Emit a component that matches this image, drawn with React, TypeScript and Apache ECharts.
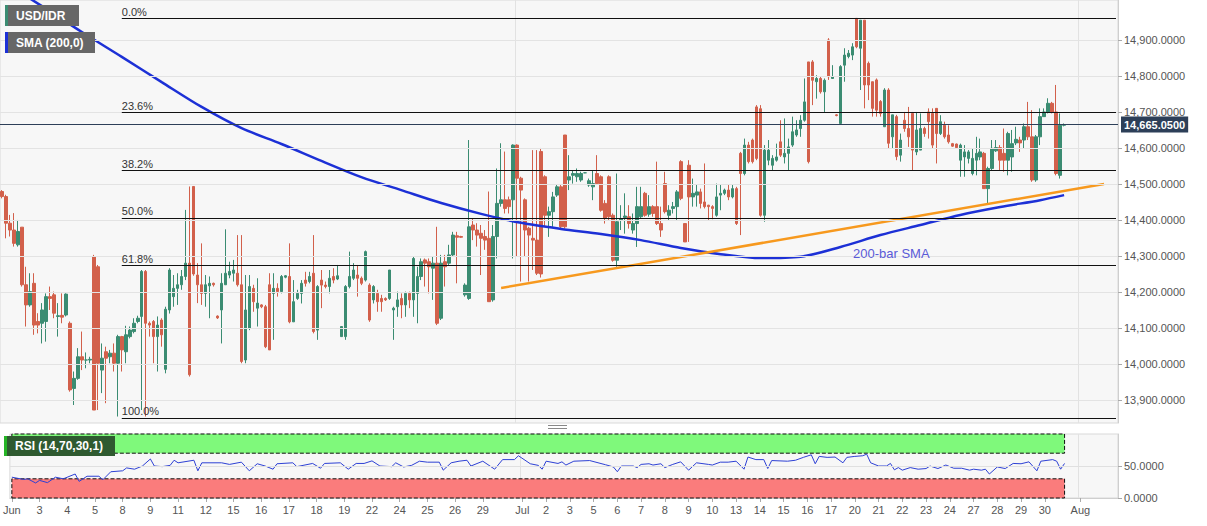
import React, { useEffect, useRef } from "react";
import * as echarts from "echarts";

// ---------- data ----------
const TOTAL_BARS = 280;

const juneTicks: [number, string][] = [
  [0, "Jun"], [7, "3"], [14, "4"], [21, "5"], [28, "8"], [35, "9"], [42, "11"], [49, "12"],
  [56, "15"], [63, "16"], [70, "17"], [77, "18"], [84, "19"], [91, "22"], [98, "24"],
  [105, "25"], [112, "26"], [119, "29"],
];
const julyTicks: [number, string][] = [
  [129, "Jul"], [135, "2"], [141, "3"], [147, "5"], [153, "6"], [159, "7"], [165, "8"],
  [171, "9"], [177, "10"], [183, "13"], [189, "14"], [195, "15"], [201, "16"], [207, "17"],
  [213, "20"], [219, "21"], [225, "22"], [231, "23"], [237, "24"], [243, "27"], [249, "28"],
  [255, "29"], [261, "30"], [270, "Aug"],
];
const monthStarts = [129, 270];

// [open, close, low, high]
const candles: number[][] = [
  [14479,14465,14460,14483],[14465,14391,14349,14470],[14391,14372,14354,14414],[14372,14335,14326,14419],
  [14331,14368,14326,14400],[14380,14220,14215,14380],[14220,14164,14104,14270],[14164,14201,14159,14252],
  [14224,14108,14081,14252],[14118,14108,14085,14141],[14113,14150,14057,14169],[14118,14187,14062,14196],
  [14187,14182,14150,14215],[14192,14141,14127,14201],[14132,14134,14076,14169],[14135,14130,14113,14196],
  [14136,14194,14132,14196],[14113,13928,13923,14118],[13932,13960,13886,13979],[13960,14020,13956,14044],
  [14020,14011,13983,14090],[14011,14011,13988,14032],[14011,14013,14002,14020],[14298,13872,13872,14303],
  [14270,14002,13872,14275],[13983,14016,13919,14057],[14034,14016,13891,14048],[14020,14030,14002,14039],
  [14030,14002,13979,14057],[14002,14076,13854,14081],[14076,14039,13979,14078],[14034,14081,14002,14106],
  [14076,14094,14071,14104],[14090,14113,14085,14127],[14118,14127,14113,14134],[14132,14257,13872,14261],
  [14257,14113,13854,14261],[14113,14108,14076,14118],[14118,14076,14002,14122],[14076,14108,13979,14132],
  [14122,14081,14048,14127],[13985,14152,13974,14159],[14150,14261,14140,14266],[14187,14210,14159,14247],
  [14210,14220,14164,14252],[14220,14243,14206,14261],[14243,14280,14233,14428],[14280,13970,13965,14493],
  [14493,14250,14245,14493],[14247,14220,14169,14280],[14220,14196,14164,14335],[14196,14220,14159,14247],
  [14217,14224,14127,14243],[14224,14220,14215,14226],[14133,14128,14125,14135],[14150,14224,14057,14252],
  [14220,14252,14220,14374],[14247,14257,14238,14284],[14252,14261,14229,14289],[14252,14220,14215,14358],
  [14220,14007,14002,14358],[14011,14150,14002,14247],[14099,14215,14094,14247],[14210,14173,14145,14220],
  [14155,14169,14104,14238],[14164,14159,14155,14166],[14159,14048,14044,14164],[14220,14039,14039,14252],
  [14196,14210,14067,14252],[14210,14201,14187,14224],[14201,14243,14196,14247],[14241,14245,14238,14247],
  [14243,14117,14113,14335],[14117,14173,14117,14233],[14182,14196,14178,14206],[14196,14224,14168,14233],
  [14233,14224,14215,14256],[14229,14243,14224,14256],[14252,14090,14085,14358],[14094,14215,14067,14219],
  [14233,14219,14155,14261],[14219,14215,14210,14229],[14215,14238,14196,14261],[14243,14233,14224,14266],
  [14236,14245,14233,14275],[14076,14104,14076,14104],[14076,14215,14067,14219],[14215,14243,14210,14312],
  [14238,14261,14233,14280],[14247,14238,14187,14275],[14238,14224,14219,14243],[14233,14312,14229,14315],
  [14219,14122,14117,14224],[14178,14215,14168,14219],[14196,14173,14145,14206],[14182,14173,14145,14192],
  [14182,14178,14175,14185],[14182,14261,14178,14261],[14150,14155,14067,14159],[14159,14178,14131,14201],
  [14182,14164,14127,14196],[14164,14196,14131,14201],[14196,14178,14155,14201],[14178,14293,14131,14298],
  [14196,14243,14113,14270],[14243,14284,14233,14293],[14289,14280,14215,14293],[14284,14270,14196,14293],
  [14266,14280,14178,14298],[14280,14113,14108,14381],[14127,14280,14122,14303],[14284,14270,14215,14303],
  [14280,14303,14275,14331],[14303,14358,14298,14367],[14356,14352,14224,14367],[14354,14352,14350,14356],
  [14192,14219,14187,14224],[14182,14381,14178,14622],[14386,14372,14344,14405],[14372,14358,14326,14391],
  [14363,14349,14247,14386],[14354,14344,14317,14372],[14349,14173,14173,14479],[14178,14354,14173,14386],
  [14354,14446,14293,14543],[14446,14456,14437,14613],[14456,14432,14418,14590],[14456,14437,14418,14465],
  [14456,14608,14293,14610],[14608,14516,14298,14610],[14516,14483,14229,14520],[14456,14372,14298,14460],
  [14377,14358,14229,14381],[14349,14344,14261,14594],[14344,14252,14247,14594],[14590,14250,14240,14600],
  [14520,14413,14381,14524],[14413,14423,14353,14437],[14423,14464,14381,14478],[14469,14492,14464,14497],
  [14492,14381,14376,14497],[14636,14381,14376,14636],[14511,14520,14483,14580],[14524,14529,14501,14538],
  [14520,14529,14506,14543],[14511,14529,14506,14534],[14531,14531,14530,14532],[14497,14509,14492,14515],
  [14492,14501,14455,14538],[14529,14501,14497,14580],[14520,14427,14423,14524],[14446,14404,14390,14455],
  [14520,14409,14400,14524],[14413,14288,14284,14418],[14288,14395,14270,14529],[14400,14404,14372,14441],
  [14407,14411,14362,14474],[14409,14390,14376,14441],[14372,14390,14362,14418],[14390,14437,14325,14492],
  [14409,14437,14404,14492],[14474,14413,14409,14478],[14416,14437,14409,14469],[14437,14418,14409,14441],
  [14437,14390,14386,14562],[14390,14372,14353,14437],[14501,14423,14418,14534],[14413,14427,14400,14441],
  [14432,14437,14418,14450],[14437,14478,14400,14483],[14562,14460,14455,14566],[14390,14339,14339,14390],
  [14552,14464,14339,14566],[14464,14474,14437,14515],[14469,14478,14437,14497],[14478,14446,14432,14487],
  [14450,14437,14432,14557],[14441,14437,14400,14442],[14437,14432,14402,14441],[14413,14464,14409,14501],
  [14469,14474,14427,14497],[14474,14483,14469,14487],[14483,14464,14455,14497],[14464,14487,14460,14497],
  [14487,14390,14386,14492],[14585,14529,14358,14589],[14529,14608,14524,14626],[14608,14562,14557,14617],
  [14622,14562,14557,14626],[14714,14571,14566,14719],[14709,14413,14409,14719],[14413,14594,14395,14608],
  [14566,14594,14552,14622],[14552,14571,14538,14580],[14566,14575,14562,14612],[14617,14580,14575,14677],
  [14575,14585,14557,14682],[14585,14603,14538,14626],[14608,14645,14603,14687],[14636,14650,14631,14677],
  [14654,14677,14631,14691],[14677,14728,14673,14793],[14839,14562,14557,14839],[14839,14788,14719,14844],
  [14784,14793,14737,14802],[14793,14756,14751,14798],[14756,14788,14700,14793],[14900,14798,14789,14905],
  [14793,14798,14793,14830],[14692,14690,14688,14694],[14668,14826,14668,14830],[14830,14858,14784,14877],
  [14854,14863,14849,14872],[14858,14881,14844,14891],[14960,14881,14877,14960],[14877,14955,14761,14955],
  [14955,14775,14710,14955],[14835,14775,14733,14840],[14784,14710,14687,14784],[14789,14705,14687,14793],
  [14729,14696,14687,14733],[14659,14761,14659,14766],[14761,14613,14599,14766],[14631,14692,14599,14692],
  [14687,14576,14566,14692],[14580,14622,14562,14640],[14677,14654,14645,14700],[14654,14631,14603,14714],
  [14696,14594,14538,14700],[14589,14650,14580,14700],[14594,14654,14594,14696],[14654,14640,14631,14659],
  [14700,14673,14626,14710],[14696,14608,14599,14710],[14710,14640,14557,14710],[14640,14673,14636,14691],
  [14663,14631,14626,14673],[14636,14617,14612,14663],[14612,14605,14603,14614],[14611,14601,14599,14612],
  [14566,14608,14520,14612],[14575,14589,14520,14608],[14571,14589,14557,14594],[14529,14571,14524,14599],
  [14566,14585,14524,14631],[14575,14589,14566,14626],[14585,14487,14487,14589],[14487,14543,14446,14548],
  [14543,14599,14538,14622],[14592,14601,14589,14622],[14601,14566,14538,14608],[14585,14566,14534,14654],
  [14566,14640,14524,14645],[14575,14612,14534,14650],[14614,14624,14608,14659],[14622,14614,14589,14631],
  [14622,14659,14599,14668],[14659,14631,14622,14728],[14631,14511,14506,14705],[14511,14631,14506,14636],
  [14631,14687,14608,14710],[14687,14700,14687,14710],[14700,14724,14696,14738],[14724,14700,14696,14728],
  [14700,14529,14524,14775],[14524,14663,14515,14696],[14663,14665.05,14660,14668],
];

// 200-bar SMA every 10 bars: [bar index, value]
const smaPoints: number[][] = [
  [0,15064],[10,14994],[20,14922],[30,14853],[40,14783],[50,14714],[60,14655],[70,14611],
  [80,14564],[90,14519],[100,14483],[110,14447],[120,14417],[130,14392],[140,14375],[150,14361],
  [160,14344],[170,14322],[180,14305],[190,14294],[200,14298],[210,14325],[220,14358],[230,14386],
  [240,14414],[250,14436],[260,14455],[266,14469],
];

// rising support line: [bar index, value]
const trendPoints: number[][] = [[125, 14211], [276, 14500]];

// RSI(14): [bar index, value]
const rsiPoints: number[][] = [
  [0,32.5],[3,29],[4,30],[6,23.5],[7,27.5],[9,24],[11,32.5],[13,30],[16,37.5],[17,26],[19,34],
  [22,34],[23,28.5],[25,41],[28,42.5],[29,47],[31,45],[33,50],[35,61],[36,50],[38,49],[40,51],
  [41,59],[42,55],[46,59],[47,42.5],[48,55],[53,55],[55,52.5],[58,56],[60,42.5],[62,53.5],
  [64,50],[66,45],[67,53.5],[71,55],[72,49],[76,54],[78,46.5],[79,54],[83,55],[85,45],[87,54],
  [89,54],[91,58],[93,50],[96,49],[97,55],[99,48.5],[101,51],[103,57.5],[105,56],[108,56],
  [109,43.5],[111,55],[113,57.5],[115,59],[116,50],[119,57.5],[122,45],[124,60],[127,60],
  [128,66],[131,53.5],[133,51],[134,45],[135,57.5],[138,54],[139,56.5],[140,51.5],[142,57.5],
  [146,58.5],[150,52],[152,48.5],[153,41],[154,50],[157,50],[158,47.5],[159,52.5],[161,53.5],
  [162,51.5],[164,53.5],[165,47.5],[167,52.5],[169,56.5],[171,43.5],[173,55],[176,52.5],
  [177,51.5],[179,56],[181,56],[183,57.5],[185,45],[186,64],[188,60],[190,60],[191,46],
  [192,58.5],[196,57.5],[198,59],[200,63.5],[202,67.5],[203,53.5],[204,65],[206,63.5],[208,64],
  [210,55],[211,63.5],[213,65],[215,66],[216,68.5],[217,55],[219,50],[221,50],[222,54],[223,44],
  [224,47.5],[225,43.5],[227,47.5],[229,45],[231,46],[232,50],[234,46],[236,51.5],[238,46.5],
  [240,46.5],[242,43.5],[243,45],[245,43.5],[246,45],[247,37.5],[249,48.5],[251,46],[253,54],
  [255,53.5],[257,56.5],[259,42.5],[260,57.5],[263,60],[264,57.5],[265,45],[266,54],
];

const priceTicks = [13900, 14000, 14100, 14200, 14300, 14400, 14500, 14600, 14700, 14800, 14900];
const rsiTicks = [0, 50];

const fibLevels: { label: string; value: number }[] = [
  { label: "0.0%", value: 14961 },
  { label: "23.6%", value: 14699 },
  { label: "38.2%", value: 14537 },
  { label: "50.0%", value: 14405.5 },
  { label: "61.8%", value: 14274 },
  { label: "100.0%", value: 13850 },
];
const lastPrice = 14665.05;

// ---------- component ----------
const FONT = "'Liberation Sans', Arial, sans-serif";
const fmt = (v: number) =>
  Number(v).toLocaleString("en-US", { minimumFractionDigits: 4, maximumFractionDigits: 4 });

export default function App() {
  const ref = useRef<HTMLDivElement>(null);

  useEffect(() => {
    if (!ref.current) return;
    const chart = echarts.init(ref.current, undefined, { renderer: "svg" });

    const tickMap = new Map<number, string>();
    [...juneTicks, ...julyTicks].forEach(([i, l]) => tickMap.set(i, l));
    const categories = Array.from({ length: TOTAL_BARS }, (_, i) => tickMap.get(i) ?? "");
    const isTick = (i: number) => tickMap.has(i);
    const isMonth = (i: number) => monthStarts.includes(i);

    const up = "#3b8c72";
    const down = "#d2604b";

    const option: any = {
      animation: false,
      backgroundColor: "#ffffff",
      textStyle: { fontFamily: FONT },
      grid: [
        { left: 0, right: 89, top: 0, height: 423, show: true, backgroundColor: "#f7f7f7", borderColor: "#d9d9d9", borderWidth: 1 },
        { left: 0, right: 89, top: 434, height: 64, show: true, backgroundColor: "#f7f7f7", borderColor: "#d9d9d9", borderWidth: 1 },
      ],
      xAxis: [
        {
          type: "category", gridIndex: 0, data: categories, boundaryGap: true,
          axisLine: { show: false }, axisTick: { show: false }, axisLabel: { show: false },
          splitLine: { show: true, interval: (i: number) => isMonth(i), lineStyle: { color: "#e2e2e2" } },
        },
        {
          type: "category", gridIndex: 1, data: categories, boundaryGap: true,
          axisLine: { show: true, lineStyle: { color: "#cfcfcf" } },
          axisTick: { show: true, alignWithLabel: true, interval: (i: number) => isTick(i), length: 4, lineStyle: { color: "#aaa" } },
          axisLabel: { show: true, interval: (i: number) => isTick(i), color: "#555", fontSize: 11, margin: 6, fontFamily: FONT },
          splitLine: { show: true, interval: (i: number) => isMonth(i), lineStyle: { color: "#e2e2e2" } },
        },
      ],
      yAxis: [
        {
          type: "value", gridIndex: 0, position: "right", min: 13836, max: 15011,
          axisLine: { show: true, lineStyle: { color: "#cfcfcf" } },
          axisTick: { show: true, customValues: priceTicks, length: 4, lineStyle: { color: "#aaa" } },
          axisLabel: { show: true, customValues: priceTicks, formatter: fmt, color: "#555", fontSize: 11, margin: 6, fontFamily: FONT },
          splitLine: { show: false },
        },
        {
          type: "value", gridIndex: 1, position: "right", min: 0, max: 100,
          axisLine: { show: true, lineStyle: { color: "#cfcfcf" } },
          axisTick: { show: true, customValues: rsiTicks, length: 4, lineStyle: { color: "#aaa" } },
          axisLabel: { show: true, customValues: rsiTicks, formatter: fmt, color: "#555", fontSize: 11, margin: 6, fontFamily: FONT },
          splitLine: { show: false },
        },
      ],
      series: [
        {
          name: "grid", type: "line", xAxisIndex: 0, yAxisIndex: 0, z: 1,
          data: [[0, priceTicks[5]]], symbol: "none", lineStyle: { opacity: 0 },
          markLine: {
            silent: true, symbol: ["none", "none"], label: { show: false },
            lineStyle: { color: "#e3e3e3", type: "solid", width: 1 },
            data: priceTicks.map((v) => ({ yAxis: v })),
          },
        },
        {
          name: "USD/IDR", type: "candlestick", xAxisIndex: 0, yAxisIndex: 0, z: 3,
          data: candles, barWidth: 3,
          itemStyle: { color: up, color0: down, borderColor: up, borderColor0: down, borderWidth: 1 },
          markLine: {
            silent: true, symbol: ["none", "none"], precision: 4,
            data: [
              ...fibLevels.map((f) => [
                {
                  coord: [30, f.value],
                  lineStyle: { color: "#111", width: 1, type: "solid" },
                  label: { show: true, position: "insideStartTop", formatter: f.label, color: "#333", fontSize: 11, distance: [0, 1], fontFamily: FONT },
                },
                { coord: [TOTAL_BARS - 1, f.value] },
              ]),
              {
                yAxis: lastPrice,
                lineStyle: { color: "#2d3f58", width: 1, type: "solid" },
                label: {
                  show: true, position: "end", formatter: fmt(lastPrice), color: "#fff",
                  backgroundColor: "#2d3f58", fontWeight: "bold", fontSize: 11, padding: [3, 3, 2, 3], distance: 3, fontFamily: FONT,
                },
              },
            ],
          },
        },
        {
          name: "SMA (200,0)", type: "line", xAxisIndex: 0, yAxisIndex: 0, z: 4,
          data: smaPoints, smooth: 0.3, showSymbol: false, symbol: "none",
          lineStyle: { color: "#1c30d6", width: 2.5 },
        },
        {
          name: "trend", type: "line", xAxisIndex: 0, yAxisIndex: 0, z: 4,
          data: trendPoints, showSymbol: false, symbol: "none",
          lineStyle: { color: "#f7991e", width: 2.5 },
        },
        {
          name: "RSI", type: "line", xAxisIndex: 1, yAxisIndex: 1, z: 3,
          data: rsiPoints, showSymbol: false, symbol: "none",
          lineStyle: { color: "#2d40d4", width: 1 },
          markArea: {
            silent: true,
            data: [
              [{ coord: [0, 70], itemStyle: { color: "#7ff97b", borderColor: "#111", borderWidth: 1, borderType: "dashed" } }, { coord: [266, 100] }],
              [{ coord: [0, 0], itemStyle: { color: "#fa7c7c", borderColor: "#111", borderWidth: 1, borderType: "dashed" } }, { coord: [266, 30] }],
            ],
          },
          markLine: {
            silent: true, symbol: ["none", "none"], label: { show: false },
            lineStyle: { color: "#e0e0e0", type: "solid", width: 1 },
            data: [{ yAxis: 50 }],
          },
        },
      ],
      graphic: [
        {
          type: "group", left: 5, top: 5, z: 100,
          children: [
            { type: "rect", z: 100, shape: { x: 0, y: 0, width: 74, height: 21 }, style: { fill: "#676767" } },
            { type: "rect", z: 101, shape: { x: 0, y: 0, width: 3, height: 21 }, style: { fill: "#3b8c72" } },
            { type: "text", z: 102, x: 11, y: 11, style: { text: "USD/IDR", fill: "#fff", font: `bold 12px ${FONT}`, verticalAlign: "middle" } },
          ],
        },
        {
          type: "group", left: 5, top: 32, z: 100,
          children: [
            { type: "rect", z: 100, shape: { x: 0, y: 0, width: 90, height: 21 }, style: { fill: "#676767" } },
            { type: "rect", z: 101, shape: { x: 0, y: 0, width: 3, height: 21 }, style: { fill: "#1c30d6" } },
            { type: "text", z: 102, x: 11, y: 11, style: { text: "SMA (200,0)", fill: "#fff", font: `bold 12px ${FONT}`, verticalAlign: "middle" } },
          ],
        },
        {
          type: "group", left: 4, top: 436, z: 100,
          children: [
            { type: "rect", z: 100, shape: { x: 0, y: 0, width: 111, height: 20 }, style: { fill: "#2f5a30" } },
            { type: "rect", z: 101, shape: { x: 0, y: 0, width: 3, height: 20 }, style: { fill: "#26b526" } },
            { type: "text", z: 102, x: 11, y: 10, style: { text: "RSI (14,70,30,1)", fill: "#fff", font: `bold 12px ${FONT}`, verticalAlign: "middle" } },
          ],
        },
        {
          type: "text", left: 853, top: 247, z: 100,
          style: { text: "200-bar SMA", fill: "#5a5ad8", font: `13px ${FONT}` },
        },
        { type: "line", z: 100, shape: { x1: 548, y1: 425.5, x2: 567, y2: 425.5 }, style: { stroke: "#888", lineWidth: 1 } },
        { type: "line", z: 100, shape: { x1: 548, y1: 428.5, x2: 567, y2: 428.5 }, style: { stroke: "#888", lineWidth: 1 } },
      ],
    };

    chart.setOption(option);
    return () => chart.dispose();
  }, []);

  return (
    <div
      ref={ref}
      style={{ position: "fixed", left: 0, top: 0, width: 1207, height: 526, background: "#fff" }}
    />
  );
}
